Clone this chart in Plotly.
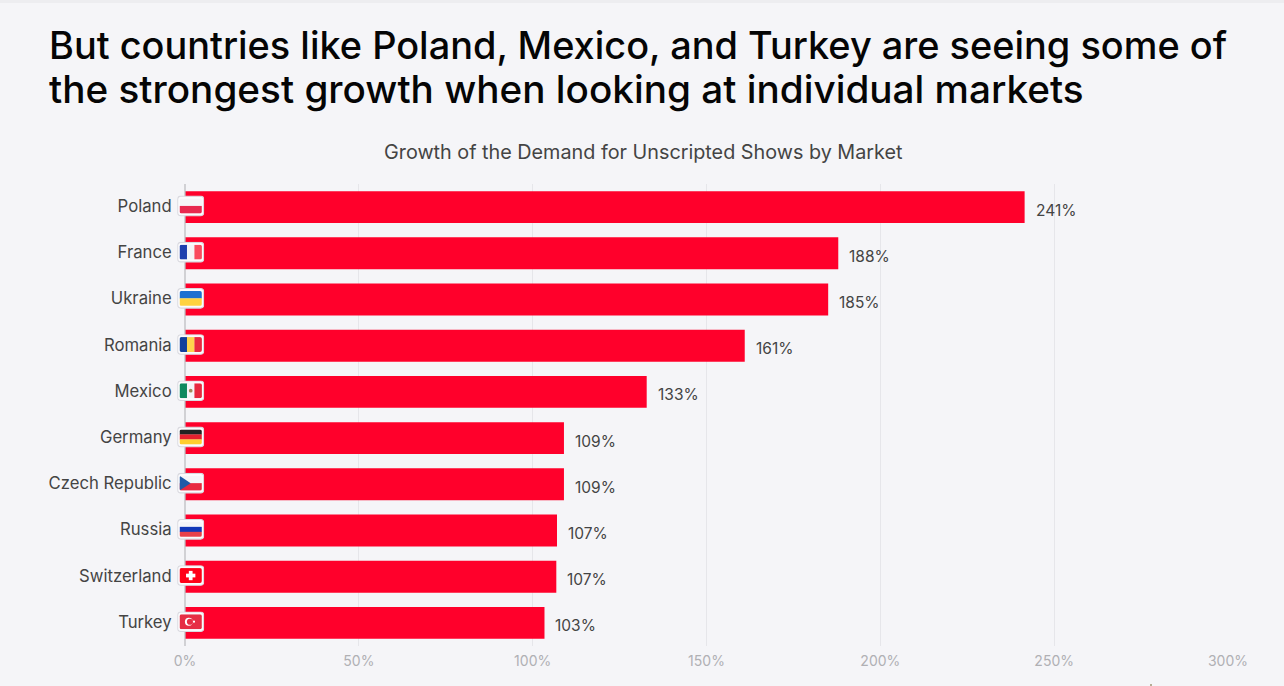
import base64
import plotly.graph_objects as go

countries = ["Poland", "France", "Ukraine", "Romania", "Mexico", "Germany",
             "Czech Republic", "Russia", "Switzerland", "Turkey"]
growth = [241.5, 187.9, 185, 161, 132.8, 109, 109, 107, 106.8, 103.4]
value_labels = ["241%", "188%", "185%", "161%", "133%", "109%", "109%", "107%", "107%", "103%"]
tick_values = [0, 50, 100, 150, 200, 250, 300]
tick_labels = ["0%", "50%", "100%", "150%", "200%", "250%", "300%"]
title_lines = ["But countries like Poland, Mexico, and Turkey are seeing some of",
               "the strongest growth when looking at individual markets"]
subtitle = "Growth of the Demand for Unscripted Shows by Market"

FONT = "Inter"
RED = "#ff002b"
BG = "#f5f5f8"
W, H = 1284, 686
L, R, T, B = 185, 56, 184, 40
PW, PH = W - L - R, H - T - B


def px(x):
    return (x - L) / PW


def py(y):
    return (H - B - y) / PH


def svg_uri(svg):
    return "data:image/svg+xml;base64," + base64.b64encode(svg.encode()).decode()


def stripes_h(cols):
    n = len(cols)
    return "".join(f'<rect x="0" y="{i*16/n}" width="24" height="{16/n+0.2}" fill="{c}"/>' for i, c in enumerate(cols))


def stripes_v(cols):
    n = len(cols)
    return "".join(f'<rect x="{i*24/n}" y="0" width="{24/n+0.2}" height="16" fill="{c}"/>' for i, c in enumerate(cols))


flag_art = {
    "Poland": stripes_h(["#f5f5f8", "#e8294f"]),
    "France": stripes_v(["#1f3fae", "#f5f5f8", "#fa4a5e"]),
    "Ukraine": stripes_h(["#1d6fd0", "#ffd23f"]),
    "Romania": stripes_v(["#123f9c", "#ffd34d", "#e8283f"]),
    "Mexico": stripes_v(["#0e8a5f", "#f5f5f8", "#e8283f"]) + '<circle cx="12" cy="8" r="2" fill="#a08a5a"/>',
    "Germany": stripes_h(["#222222", "#e5202e", "#ffce2e"]),
    "Czech Republic": stripes_h(["#f5f5f8", "#e8283f"]) + '<path d="M0 0 L12 8 L0 16 Z" fill="#1f5aa8"/>',
    "Russia": stripes_h(["#f5f5f8", "#1238b8", "#e8404a"]),
    "Switzerland": '<rect width="24" height="16" fill="#ff0018"/><rect x="10" y="3" width="4" height="10" fill="#fff"/><rect x="7" y="6" width="10" height="4" fill="#fff"/>',
    "Turkey": '<rect width="24" height="16" fill="#e62e44"/><circle cx="10" cy="8" r="4.2" fill="#fff"/><circle cx="11.2" cy="8" r="3.3" fill="#e62e44"/><circle cx="15.5" cy="8" r="1.2" fill="#fff"/>',
}


def flag_uri(name):
    return svg_uri('<svg xmlns="http://www.w3.org/2000/svg" width="27" height="23" viewBox="-2.5 -3 29 24.5">'
                   '<rect x="-2" y="-2.5" width="28" height="21" rx="3.5" fill="#fbfbfd" stroke="#d9d9df" stroke-width="1.2"/>'
                   '<clipPath id="c"><rect x="0" y="0" width="24" height="16" rx="2"/></clipPath>'
                   f'<g clip-path="url(#c)">{flag_art[name]}</g></svg>')


fig = go.Figure(go.Bar(
    x=growth, y=countries, orientation="h",
    marker=dict(color=RED, line=dict(width=0)),
    width=0.69, hoverinfo="skip",
))

n = len(countries)
axis_line = svg_uri('<svg xmlns="http://www.w3.org/2000/svg" width="2" height="462" viewBox="0 0 2 462" '
                    'preserveAspectRatio="none"><rect width="2" height="462" fill="#bcbcc0"/></svg>')
images = [dict(source=axis_line, xref="paper", yref="paper", x=px(185), y=0.5, sizex=1.6 / PW, sizey=1,
               xanchor="center", yanchor="middle", sizing="stretch", layer="above")]
images += [dict(source=flag_uri(c), xref="paper", yref="paper", x=px(190.7), y=(n - 0.5 - i) / n,
                sizex=27 / PW, sizey=23 / PH, xanchor="center", yanchor="middle",
                sizing="stretch", layer="above") for i, c in enumerate(countries)]

annotations = [
    dict(text=title_lines[0], xref="paper", yref="paper", x=px(47), y=py(45), xanchor="left", yanchor="middle",
         showarrow=False, font=dict(family=FONT, size=37.9, weight=500, color="#050505")),
    dict(text=title_lines[1], xref="paper", yref="paper", x=px(47), y=py(89), xanchor="left", yanchor="middle",
         showarrow=False, font=dict(family=FONT, size=38.7, weight=500, color="#050505")),
    dict(text=subtitle, xref="paper", yref="paper", x=px(643), y=py(152), xanchor="center", yanchor="middle",
         showarrow=False, font=dict(family=FONT, size=19.8, color="#444444")),
]
for c, g, t in zip(countries, growth, value_labels):
    annotations.append(dict(text=t, x=g, y=c, xref="x", yref="y", xanchor="left", yanchor="middle",
                            xshift=9, yshift=-3, showarrow=False,
                            font=dict(family=FONT, size=15.5, color="#444444")))

shapes = [
    dict(type="rect", xref="paper", yref="paper", x0=px(0), x1=px(W), y0=py(0), y1=py(3),
         fillcolor="#ededf0", line=dict(width=0), layer="below"),
    dict(type="rect", xref="paper", yref="paper", x0=px(1150), x1=px(1152), y0=py(684), y1=py(686),
         fillcolor="#b5ae96", line=dict(width=0), layer="below"),
]

fig.update_layout(
    width=W, height=H, autosize=False,
    margin=dict(l=L, r=R, t=T, b=B, pad=0),
    paper_bgcolor=BG, plot_bgcolor=BG,
    showlegend=False, images=images, annotations=annotations, shapes=shapes,
    font=dict(family=FONT, color="#444444"),
)
fig.update_xaxes(range=[0, 300], tickvals=tick_values, ticktext=tick_labels,
                 showgrid=True, gridcolor="#e6e6ea", gridwidth=1, zeroline=False,
                 showline=False, ticks="outside", ticklen=2, tickcolor="rgba(0,0,0,0)",
                 tickfont=dict(family=FONT, size=14, color="#b0b0b4"))
fig.update_yaxes(categoryorder="array", categoryarray=countries[::-1],
                 showgrid=False, zeroline=False, showline=False,
                 ticks="outside", ticklen=9, tickcolor="rgba(0,0,0,0)", ticklabelshift=-1,
                 tickfont=dict(family=FONT, size=16.7, color="#444444"))

fig.write_html("out.html", config=dict(displayModeBar=False),
               post_script="document.body.style.margin='0';document.body.style.background='#f5f5f8';")
